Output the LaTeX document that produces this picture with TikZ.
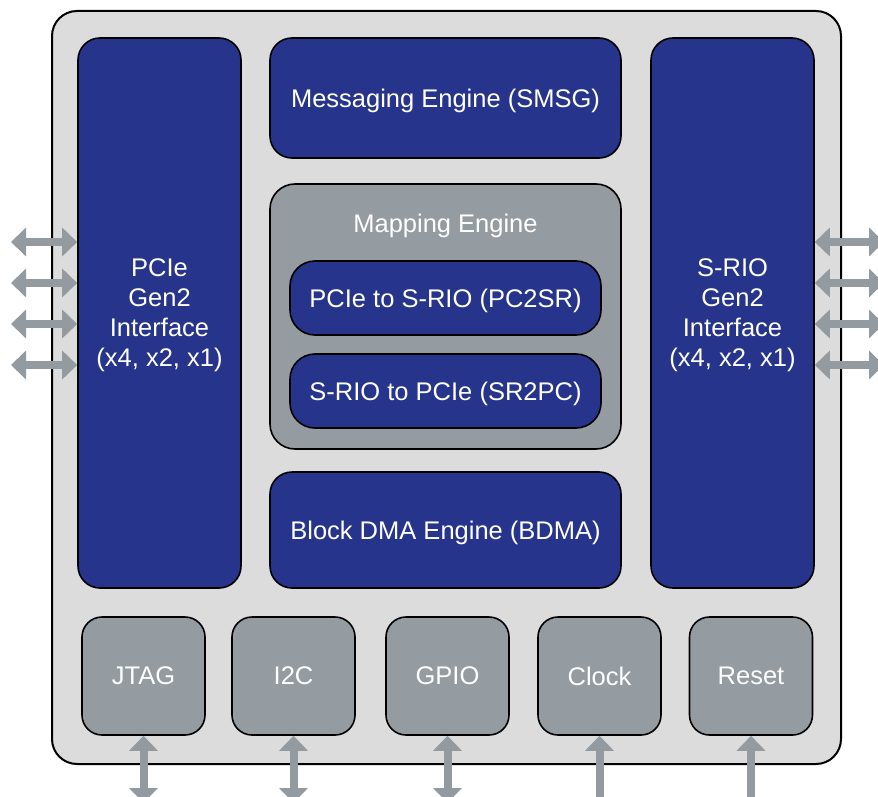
\documentclass[tikz,border=0pt]{standalone}
\usepackage{fontspec}
\setmainfont{Liberation Sans}
\usetikzlibrary{arrows.meta}

\definecolor{chipbg}{HTML}{DCDCDC}
\definecolor{engblue}{HTML}{27348B}
\definecolor{blockgray}{HTML}{949BA1}
\definecolor{pingray}{HTML}{939AA0}

\tikzset{
  chip/.style={draw=black, line width=2, fill=chipbg, rounded corners=25, inner sep=0},
  boxtext/.style={text=white, align=center, font=\fontsize{25.5}{30}\selectfont, text depth=0pt},
  bluebox/.style={draw=black, line width=1.6, fill=engblue, rounded corners=22, inner sep=0, boxtext},
  graybox/.style={draw=black, line width=1.6, fill=blockgray, rounded corners=22, inner sep=0, boxtext},
  label/.style={text=white, font=\fontsize{25.5}{30}\selectfont, inner sep=0},
  pin/.style={draw=pingray, line width=8},
  biarrow/.style={pin, {Triangle[width=28, length=15]}-{Triangle[width=28, length=15]}},
  inarrow/.style={pin, -{Triangle[width=28, length=15]}},
}

\begin{document}
\begin{tikzpicture}[x=1pt, y=-1pt]
  \useasboundingbox (0,0) rectangle (878,797);

  % device outline
  \node[chip, minimum width=789, minimum height=753] (dev) at (446.5,387.5) {};

  % link interfaces
  \node[bluebox, minimum width=163, minimum height=550] (pcie) at (159.5,313)
    {PCIe\\Gen2\\Interface\\(x4, x2, x1)};
  \node[bluebox, minimum width=163, minimum height=550] (srio) at (732.5,313)
    {S-RIO\\Gen2\\Interface\\(x4, x2, x1)};

  % engines
  \node[bluebox, minimum width=351, minimum height=120] (smsg) at (445.5,98)
    {Messaging Engine (SMSG)};
  \node[graybox, minimum width=351, minimum height=265, rounded corners=25] (map) at (445.5,316.5) {};
  \node[label] (maptitle) at (445.5,225.5) {Mapping Engine};
  \node[bluebox, minimum width=311, minimum height=74, rounded corners=25] (pc2sr) at (445.5,298)
    {PCIe to S-RIO (PC2SR)};
  \node[bluebox, minimum width=311, minimum height=74, rounded corners=25] (sr2pc) at (445.5,391)
    {S-RIO to PCIe (SR2PC)};
  \node[bluebox, minimum width=351, minimum height=116] (bdma) at (445.5,530)
    {Block DMA Engine (BDMA)};

  % peripheral blocks
  \node[graybox, minimum width=123, minimum height=118, rounded corners=20] (jtag)  at (143.5,676) {JTAG};
  \node[graybox, minimum width=123, minimum height=118, rounded corners=20] (i2c)   at (293.5,676) {I2C};
  \node[graybox, minimum width=123, minimum height=118, rounded corners=20] (gpio)  at (447.5,676) {GPIO};
  \node[graybox, minimum width=123, minimum height=118, rounded corners=20] (clock) at (599.5,676) {Clock};
  \node[graybox, minimum width=123, minimum height=118, rounded corners=20] (reset) at (751,676) {Reset};

  % external lane ends
  \foreach \i/\yy in {1/242, 2/283, 3/324, 4/365} {
    \coordinate (lx\i) at (11,\yy);
    \coordinate (rx\i) at (884,\yy);
    \draw[biarrow] (lx\i) -- (pcie.west |- lx\i);
    \draw[biarrow] (rx\i) -- (srio.east |- rx\i);
  }

  % peripheral signal ends
  \coordinate (jtagx)  at (143.5,803);
  \coordinate (i2cx)   at (293.5,803);
  \coordinate (gpiox)  at (447.5,803);
  \coordinate (clockx) at (599.5,803);
  \coordinate (resetx) at (751,803);
  \draw[biarrow] (jtagx)  -- (jtag.south);
  \draw[biarrow] (i2cx)   -- (i2c.south);
  \draw[biarrow] (gpiox)  -- (gpio.south);
  \draw[inarrow] (clockx) -- (clock.south);
  \draw[inarrow] (resetx) -- (reset.south);
\end{tikzpicture}
\end{document}
